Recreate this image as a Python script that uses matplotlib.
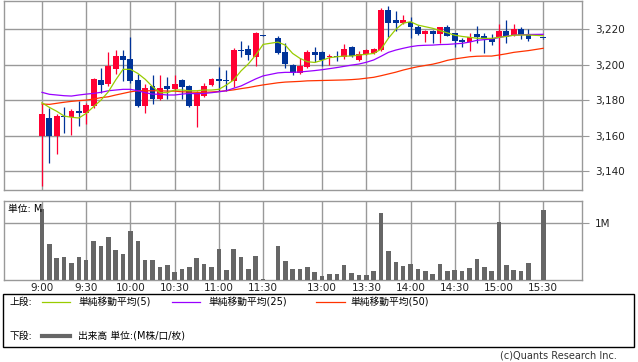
import numpy as np
import matplotlib
matplotlib.use("Agg")
import matplotlib.pyplot as plt
from matplotlib.lines import Line2D
from matplotlib.patches import Rectangle
from matplotlib.ticker import FuncFormatter

plt.rcParams['font.family'] = ['DejaVu Sans', 'Noto Sans CJK JP']

# 5-minute bars, slot 0 = 9:00 ... slot 68 = 15:30 (slots 31 and 67 have no bar)
nan = np.nan
opens = [3160, 3170, 3160, 3171, 3170.5, 3174, 3172.6, 3176.8, 3191.4, 3189, 3197.7, 3204.9, 3203.2, 3191.4,
         3176.8, 3188, 3180.8, 3188, 3186.4, 3191.4, 3188, 3176.8, 3182.5, 3188.7, 3191.9, 3191.4, 3191,
         3208.3, 3208.9, 3204.2, 3216.4, nan, 3215.3, 3207.3, 3199.8, 3195.1, 3198.9, 3207, 3207, 3204.2,
         3205.1, 3204.2, 3210, 3202.7, 3205.9, 3206.4, 3208.3, 3230.9, 3225.3, 3223.7, 3224.3, 3221.5,
         3217.2, 3219, 3217.2, 3221.5, 3217.7, 3214, 3213, 3217.3, 3216.2, 3214.4, 3215.5, 3219, 3216.8,
         3220, 3217.3, nan, 3215]
highs = [3178, 3175.4, 3172, 3176, 3175, 3179.7, 3178.5, 3192.5, 3198.1, 3207.2, 3208.3, 3208.3, 3215.4, 3195,
         3189, 3194.2, 3194.2, 3192.9, 3194.2, 3192, 3188.5, 3185, 3189.7, 3192.5, 3198.9, 3197, 3209.3,
         3213.4, 3211.1, 3218.5, 3216.6, nan, 3216.2, 3212.4, 3200.5, 3203.6, 3208.3, 3210.2, 3207.5, 3206,
         3207.6, 3211.5, 3210.5, 3208, 3209, 3209.5, 3232, 3233.2, 3230.5, 3228.1, 3227.1, 3222.5,
         3219.5, 3219.5, 3221.5, 3222.3, 3218.2, 3215.3, 3217.7, 3221.9, 3217.7, 3217.3, 3223, 3225.3, 3223,
         3221.6, 3220, nan, 3215.2]
lows = [3131.6, 3144.6, 3149.5, 3161.6, 3160.3, 3165.5, 3166.5, 3175.5, 3183.8, 3188, 3194.7, 3191, 3189.5, 3176,
        3172.9, 3178, 3180, 3180.8, 3186, 3180.8, 3176, 3165, 3181.5, 3188, 3185.3, 3185.3, 3187.2,
        3204.2, 3202.7, 3199.3, 3216, nan, 3206, 3198, 3194, 3195, 3198, 3201.7, 3199.4, 3199.8,
        3202, 3203.5, 3204.5, 3202, 3205.5, 3206, 3208, 3215.5, 3219.2, 3223, 3214.9, 3217,
        3213, 3212.5, 3212.5, 3216, 3209.8, 3209.8, 3207.9, 3212.4, 3206.8, 3211.1, 3203, 3212.5, 3216.5,
        3214.5, 3213.5, nan, 3214.8]
closes = [3172, 3160, 3171, 3170.3, 3174, 3172.9, 3177.2, 3191.9, 3188.7, 3199.3, 3204.9, 3202.7, 3191, 3176.8,
          3186.8, 3180.8, 3186.8, 3186.4, 3189.1, 3187.6, 3176.8, 3184.2, 3188, 3191.9, 3191, 3191, 3208.3,
          3207.6, 3205.5, 3218.1, 3216.2, nan, 3206.8, 3200.4, 3195.1, 3199.4, 3207, 3205.7, 3202.7, 3205.1,
          3204.2, 3208.9, 3205, 3206, 3208.3, 3209, 3230.9, 3223.7, 3223.7, 3225.3, 3221.5, 3217.2,
          3219, 3217.2, 3221.1, 3216.2, 3213.6, 3212.8, 3215.8, 3215.8, 3214.5, 3212.8, 3219, 3215.8, 3220,
          3216.8, 3214.7, nan, 3214.9]
volumes = [1.25, 0.635, 0.394, 0.41, 0.306, 0.41, 0.353, 0.688, 0.60, 0.76, 0.53, 0.46, 0.865, 0.688, 0.353,
           0.353, 0.235, 0.265, 0.141, 0.194, 0.235, 0.394, 0.282, 0.235, 0.547, 0.176, 0.547, 0.406, 0.20,
           0.424, 0.01, 0, 0.60, 0.335, 0.194, 0.194, 0.235, 0.147, 0.076, 0.106, 0.106, 0.265, 0.124, 0.088,
           0.088, 0.159, 1.19, 0.51, 0.318, 0.253, 0.282, 0.194, 0.159, 0.106, 0.282, 0.159, 0.176, 0.159,
           0.212, 0.37, 0.235, 0.159, 1.03, 0.265, 0.176, 0.159, 0.30, 0, 1.235]
ma5 = [3178.5, 3175.9, 3173.7, 3171.0, 3170.3, 3169.9, 3172.5, 3176.3, 3180.0, 3184.7, 3191.4, 3197.4, 3197.4,
       3195.1, 3191.8, 3187.6, 3184.2, 3184.2, 3185.7, 3185.7, 3185.3, 3185.3, 3185.7, 3185.7, 3186.1, 3188.5,
       3191.4, 3196.5, 3200.5, 3205.5, 3211.5, nan, 3212.8, 3211.1, 3206.4, 3203.6, 3201.7, 3201.3, 3202.5,
       3204.0, 3204.5, 3204.9, 3204.9, 3205.5, 3205.9, 3206.4, 3208.8, 3215.0, 3220.0, 3223.5, 3224.3, 3222.4,
       3221.5, 3220.6, 3219.3, 3218.0, 3216.7, 3216.0, 3215.5, 3215.0, 3214.9, 3214.9, 3215.5, 3216.0, 3216.7,
       3216.8, 3216.8, nan, 3216.4]
ma25 = [3184.4, 3183.3, 3182.9, 3182.5, 3182.3, 3182.9, 3183.4, 3183.8, 3184.4, 3185.3, 3185.7, 3186.1, 3186.1,
        3185.3, 3184.2, 3183.4, 3183.3, 3182.9, 3182.9, 3183.4, 3183.8, 3183.6, 3183.8, 3184.2, 3184.7, 3185.3,
        3186.7, 3188.0, 3190.0, 3192.0, 3193.7, nan, 3195.4, 3195.7, 3195.7, 3195.9, 3196.3, 3196.7, 3197.2,
        3197.8, 3198.4, 3199.1, 3199.8, 3200.4, 3201.4, 3202.7, 3204.8, 3207.0, 3208.3, 3209.3, 3210.2, 3210.8,
        3211.0, 3211.1, 3211.4, 3211.5, 3211.8, 3212.1, 3212.8, 3213.8, 3214.2, 3214.5, 3215.4, 3216.2, 3216.7,
        3216.9, 3217.1, nan, 3217.2]
ma50 = [3177.8, 3177.6, 3178.2, 3178.8, 3179.3, 3179.7, 3180.0, 3180.6, 3181.4, 3181.9, 3182.9, 3183.8, 3184.7,
        3185.3, 3185.3, 3185.3, 3185.3, 3185.1, 3185.1, 3184.7, 3184.6, 3184.4, 3184.4, 3184.6, 3184.9, 3185.3,
        3185.8, 3186.5, 3187.1, 3187.9, 3188.6, nan, 3189.8, 3190.2, 3190.4, 3190.6, 3190.9, 3191.0, 3191.1,
        3191.2, 3191.3, 3191.4, 3191.6, 3191.9, 3192.4, 3192.9, 3193.8, 3194.8, 3195.8, 3197.0, 3198.0, 3198.9,
        3199.6, 3200.3, 3201.3, 3202.5, 3203.3, 3203.9, 3204.5, 3204.8, 3204.9, 3204.9, 3205.5, 3206.2, 3207.0,
        3207.5, 3208.0, nan, 3209.3]

tick_slots = [0, 6, 12, 18, 24, 30, 38, 44, 50, 56, 62, 68]
tick_labels = ['9:00', '9:30', '10:00', '10:30', '11:00', '11:30',
               '13:00', '13:30', '14:00', '14:30', '15:00', '15:30']
price_ticks = [3140, 3160, 3180, 3200, 3220]

UP = '#ff0033'
DOWN = '#003399'
GRID = '#999999'

W, H = 638, 362
fig = plt.figure(figsize=(W / 100, H / 100), dpi=100)


def px_axes(x0, y0, x1, y1):
    return fig.add_axes([x0 / W, 1 - y1 / H, (x1 - x0) / W, (y1 - y0) / H])


ax = px_axes(3.5, 0.7, 582.3, 190)
axv = px_axes(3.5, 201, 582.3, 280)

o = np.array(opens, float)
h = np.array(highs, float)
l = np.array(lows, float)
c = np.array(closes, float)
idx = np.arange(len(o))
ok = ~np.isnan(o)
colors = np.where(c >= o, UP, DOWN)

# wicks + bodies
ax.vlines(idx[ok], l[ok], h[ok], colors=colors[ok], linewidth=0.9, zorder=3)
body_lo = np.minimum(o, c)
body_h = np.maximum(np.abs(c - o), 0.5)
ax.bar(idx[ok], body_h[ok], bottom=body_lo[ok], width=0.8, color=colors[ok], linewidth=0, zorder=4)

for vals, col in [(ma50, '#ff3300'), (ma25, '#9900ff'), (ma5, '#99cc00')]:
    v = np.array(vals, float)
    m = ~np.isnan(v)
    ax.plot(idx[m], v[m], color=col, linewidth=0.9, zorder=5)

axv.bar(idx, volumes, width=0.62, color='#666666', linewidth=0, zorder=3)

for a in (ax, axv):
    a.set_xlim(-5.22, 73.3)
    a.set_xticks(tick_slots)
    a.grid(True, color=GRID, linewidth=1.0)
    a.set_axisbelow(True)
    for s in a.spines.values():
        s.set_color(GRID)
        s.set_linewidth(1.0)
    a.yaxis.tick_right()
    a.tick_params(axis='y', length=5, color=GRID, labelsize=7.5, pad=4, labelcolor='#222222')

ax.set_ylim(3129.2, 3236.2)
ax.set_yticks(price_ticks)
ax.yaxis.set_major_formatter(FuncFormatter(lambda v, p: f'{v:,.0f}'))
ax.tick_params(axis='x', length=0, labelbottom=False)

axv.set_ylim(0, 1.393)
axv.set_yticks([1.0])
axv.set_yticklabels(['1M'])
axv.set_xticklabels(tick_labels)
axv.tick_params(axis='x', length=0, labelsize=7.5, pad=2, labelcolor='#222222')
axv.text(0.008, 0.9, '単位: M', transform=axv.transAxes, fontsize=7, va='center', ha='left', zorder=6)

# legend box
fig.patches.append(Rectangle((3 / W, 1 - 347 / H), 631 / W, 53 / H, transform=fig.transFigure,
                             fill=False, edgecolor='black', linewidth=1.0))


def fy(y):
    return 1 - y / H


def fx(x):
    return x / W


fs = 7
fig.text(fx(10), fy(302), '上段:', fontsize=fs, va='center')
entries = [(42, 70, 78, '#99cc00', '単純移動平均(5)'),
           (172, 200, 208, '#9900ff', '単純移動平均(25)'),
           (316, 345, 350, '#ff3300', '単純移動平均(50)')]
for x0, x1, tx, col, lab in entries:
    fig.lines.append(Line2D([fx(x0), fx(x1)], [fy(302), fy(302)], transform=fig.transFigure,
                            color=col, linewidth=0.9))
    fig.text(fx(tx), fy(302), lab, fontsize=fs, va='center')

fig.text(fx(10), fy(336), '下段:', fontsize=fs, va='center')
fig.lines.append(Line2D([fx(42), fx(70)], [fy(336), fy(336)], transform=fig.transFigure,
                        color='#666666', linewidth=3.0))
fig.text(fx(78), fy(336), '出来高 単位:(M株/口/枚)', fontsize=fs, va='center')

fig.text(fx(617), fy(356), '(c)Quants Research Inc.', fontsize=7, va='center', ha='right', color='#333333')

fig.savefig('out.png', dpi=100)
